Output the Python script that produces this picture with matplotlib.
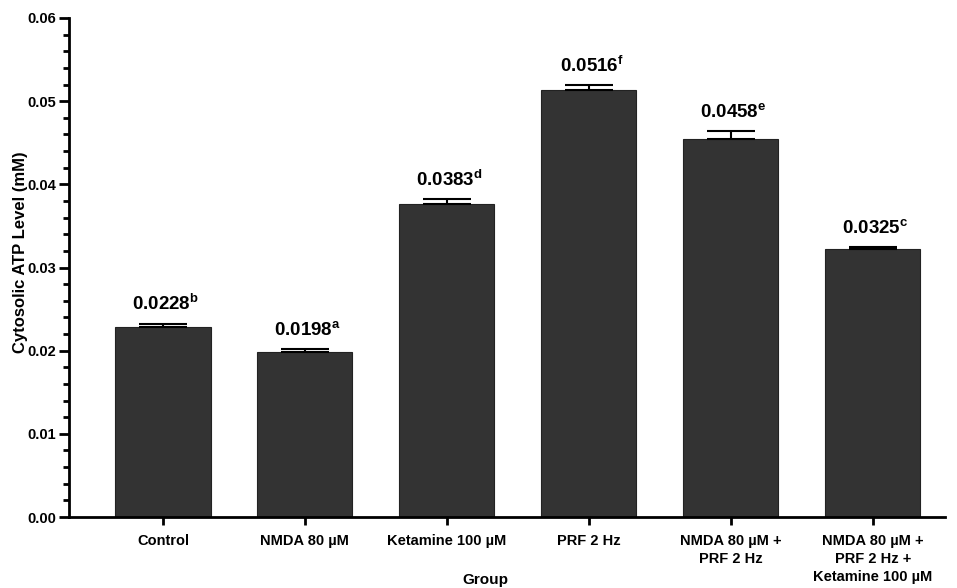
import matplotlib
matplotlib.use("Agg")
import matplotlib.pyplot as plt
from matplotlib.ticker import MultipleLocator
import numpy as np

plt.rcParams['font.family'] = ['Liberation Sans', 'DejaVu Sans']
plt.rcParams['mathtext.fontset'] = 'custom'
plt.rcParams['mathtext.rm'] = 'Liberation Sans'
plt.rcParams['mathtext.bf'] = 'Liberation Sans:bold'
plt.rcParams['mathtext.it'] = 'Liberation Sans'

groups = ["Control", "NMDA 80 µM", "Ketamine 100 µM", "PRF 2 Hz",
          "NMDA 80 µM +\nPRF 2 Hz", "NMDA 80 µM +\nPRF 2 Hz +\nKetamine 100 µM"]
means = [0.0228, 0.0198, 0.0376, 0.0514, 0.0455, 0.0322]
errs = [0.0004, 0.0004, 0.0006, 0.0005, 0.0009, 0.0003]
labels = ["0.0228", "0.0198", "0.0383", "0.0516", "0.0458", "0.0325"]
letters = ["b", "a", "d", "f", "e", "c"]

fig = plt.figure(figsize=(9.57, 5.88), dpi=100)
ax = fig.add_axes([0.0721, 0.1207, 0.915, 0.8487])

x = np.arange(len(groups))
ax.bar(x, means, width=0.67, color='#333333', edgecolor='#222222', linewidth=0.8, zorder=2)
ax.errorbar(x, means, yerr=[np.zeros(len(errs)), errs], fmt='none', ecolor='black',
            elinewidth=1.5, capsize=17, capthick=1.5, zorder=3)

for xi, m, e, lab, let in zip(x, means, errs, labels, letters):
    ax.annotate(r"$\mathbf{%s}^{\mathbf{%s}}$" % (lab, let), (xi, m + e),
                xytext=(2, 7), textcoords='offset points', ha='center', va='bottom',
                fontsize=13.5)

ax.set_xlim(-0.662, 5.507)
ax.set_ylim(0, 0.06)
ax.yaxis.set_major_locator(MultipleLocator(0.01))
ax.yaxis.set_minor_locator(MultipleLocator(0.002))
ax.set_yticklabels(["%.2f" % v for v in ax.get_yticks()], fontweight='bold', fontsize=10.5)
ax.set_xticks(x)
ax.set_xticklabels(groups, fontweight='bold', fontsize=10.5, linespacing=1.37)

for s in ['top', 'right']:
    ax.spines[s].set_visible(False)
for s in ['left', 'bottom']:
    ax.spines[s].set_linewidth(2)
ax.tick_params(axis='y', which='major', length=7, width=2, pad=2)
ax.tick_params(axis='y', which='minor', length=4, width=2)
ax.tick_params(axis='x', which='major', length=6, width=2, pad=6)

ax.set_ylabel("Cytosolic ATP Level (mM)", fontweight='bold', fontsize=12)
ax.yaxis.set_label_coords(-0.047, 0.531)
ax.set_xlabel("Group", fontweight='bold', fontsize=11, va='center')
ax.xaxis.set_label_coords(0.475, -0.126)

fig.savefig("out.png", dpi=100)
